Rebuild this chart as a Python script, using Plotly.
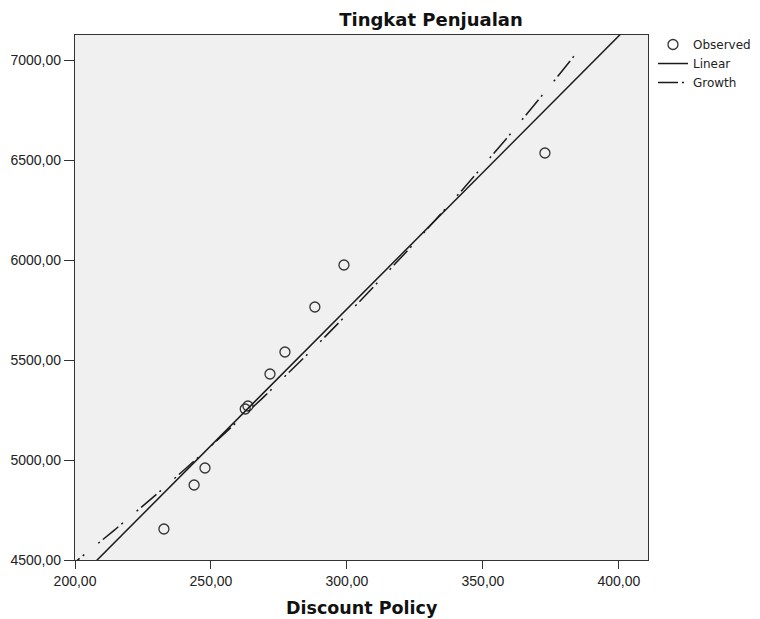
import numpy as np
import plotly.graph_objects as go

discount_policy = [232.7, 243.8, 247.8, 262.6, 263.6, 271.7, 277.2, 288.2, 298.9, 372.8]
tingkat_penjualan = [4655, 4875, 4960, 5255, 5270, 5430, 5540, 5765, 5975, 6535]

x_ticks = [200, 250, 300, 350, 400]
y_ticks = [4500, 5000, 5500, 6000, 6500, 7000]

# Range over which fitted curves are drawn
fit_range = [196, 386]
lin_range = [190, 420]

xa = np.array(discount_policy, dtype=float)
ya = np.array(tingkat_penjualan, dtype=float)
b1, b0 = np.polyfit(xa, ya, 1)
g1, g0 = np.polyfit(xa, np.log(ya), 1)

xl = np.linspace(lin_range[0], lin_range[1], 200)
xg = np.linspace(fit_range[0], fit_range[1], 200)

W, H = 752, 611
ML, MR, MT, MB = 67, 112, 27, 59

fig = go.Figure()
fig.add_trace(go.Scatter(x=discount_policy, y=tingkat_penjualan, mode="markers", name="Observed",
                         marker=dict(symbol="circle-open", size=10, color="#333333", line=dict(width=1.3))))
fig.add_trace(go.Scatter(x=xl, y=b0 + b1 * xl, mode="lines", name="Linear",
                         line=dict(color="#1a1a1a", width=1.5)))
fig.add_trace(go.Scatter(x=xg, y=np.exp(g0 + g1 * xg), mode="lines", name="Growth",
                         line=dict(color="#1a1a1a", width=1.5, dash="20px,4px,2px,18px,2px,4px")))

fig.update_layout(
    width=W, height=H,
    margin=dict(l=ML, r=MR, t=MT, b=MB, autoexpand=False),
    paper_bgcolor="white", plot_bgcolor="#F0F0F0",
    separators=",.",
    font=dict(family="Liberation Sans, Arial, sans-serif", size=14, color="#222222"),
    title=dict(text="<b>Tingkat Penjualan</b>", x=423 / W, xanchor="center",
               y=1 - 11.5 / H, yanchor="middle", yref="container",
               font=dict(family="DejaVu Sans, sans-serif", size=18, color="#111111")),
    legend=dict(x=1.0087, xanchor="left", y=1.0095, yanchor="top", bgcolor="rgba(0,0,0,0)",
                font=dict(family="DejaVu Sans, sans-serif", size=12), tracegroupgap=0, itemwidth=30),
    showlegend=True,
    annotations=[dict(text="<b>Discount Policy</b>", xref="paper", yref="paper",
                      x=0.5, y=0, yshift=-47.5, xanchor="center", yanchor="middle",
                      showarrow=False,
                      font=dict(family="DejaVu Sans, sans-serif", size=17.5, color="#111111"))],
)
fig.update_xaxes(range=[200, 410.7], tickvals=x_ticks, tickformat=".2f",
                 showgrid=False, zeroline=False, showline=True, linecolor="#333333", linewidth=1.3,
                 mirror=True, ticks="outside", ticklen=8, tickcolor="#333333", tickwidth=1.3)
fig.update_yaxes(range=[4500, 7125], tickvals=y_ticks, tickformat=".2f",
                 showgrid=False, zeroline=False, showline=True, linecolor="#333333", linewidth=1.3,
                 mirror=True, ticks="outside", ticklen=10, tickcolor="#333333", tickwidth=1.3)

fig.write_html("out.html")
